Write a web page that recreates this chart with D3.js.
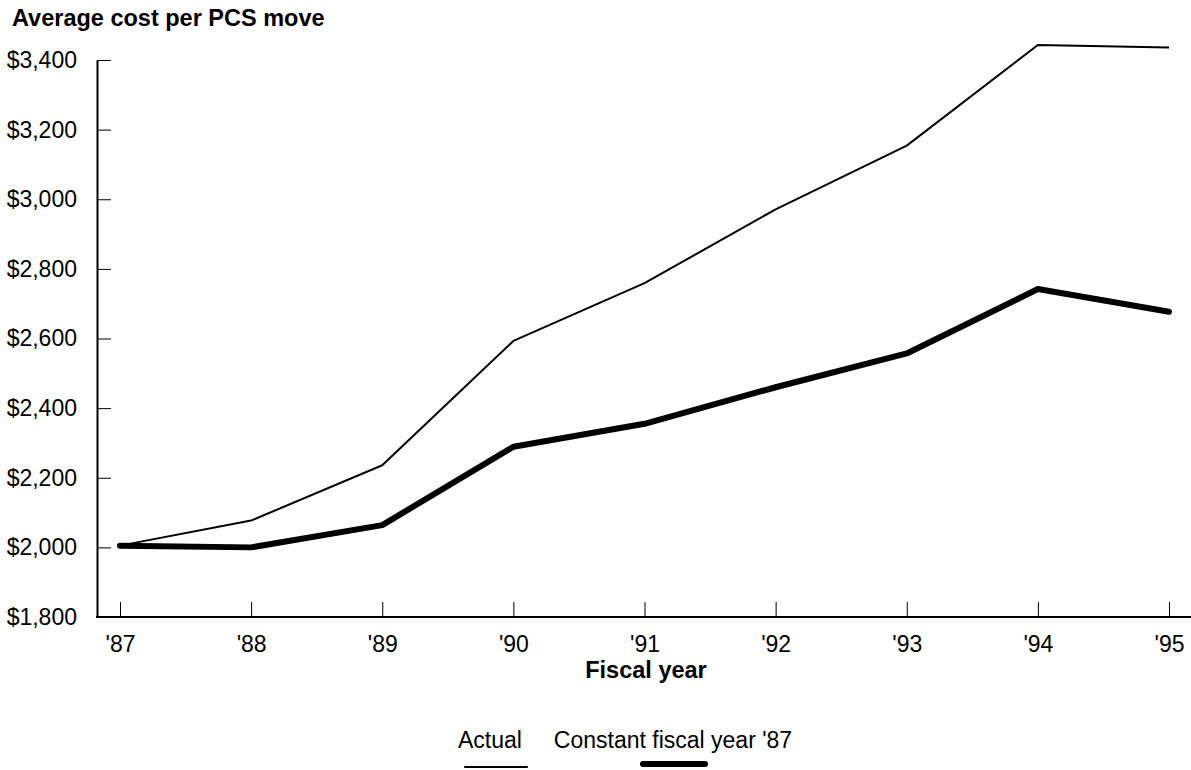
<!DOCTYPE html>
<html>
<head>
<meta charset="utf-8">
<script src="https://cdn.jsdelivr.net/npm/d3@7"></script>
<style>
  body { margin: 0; background: #fff; }
  svg { display: block; font-family: "Liberation Sans", Arial, Helvetica, sans-serif; }
</style>
</head>
<body>
<div id="chart"></div>
<script>
// chart values
const years = ["'87", "'88", "'89", "'90", "'91", "'92", "'93", "'94", "'95"];
const actual = [2005, 2077, 2236, 2593, 2759, 2971, 3154, 3443, 3436];
const constant87 = [2005, 2000, 2064, 2289, 2355, 2460, 2557, 2742, 2677];
const yTicks = [1800, 2000, 2200, 2400, 2600, 2800, 3000, 3200, 3400];
const legendLabels = ["Actual", "Constant fiscal year '87"];

const width = 1191;
const height = 770;

const svg = d3.select("#chart").append("svg")
  .attr("width", width)
  .attr("height", height);

const x = d3.scalePoint().domain(years).range([120, 1169]);
const y = d3.scaleLinear().domain([1800, 3400]).range([617, 60]);

// title
svg.append("text")
  .attr("x", 12)
  .attr("y", 26)
  .attr("font-size", 23.5)
  .attr("font-weight", "bold")
  .text("Average cost per PCS move");

// y axis, ticks pointing inward
const yAxis = svg.append("g")
  .attr("transform", "translate(97,0)")
  .call(d3.axisLeft(y)
    .tickValues(yTicks)
    .tickFormat(d3.format("$,"))
    .tickSizeInner(-14)
    .tickSizeOuter(0)
    .tickPadding(20));
yAxis.select(".domain").attr("stroke-width", 2);
yAxis.selectAll("text").attr("font-size", 23).attr("fill", "#000");

// x axis
const xAxis = svg.append("g")
  .attr("transform", "translate(0,617)")
  .call(d3.axisBottom(x)
    .tickSizeInner(-15)
    .tickSizeOuter(0)
    .tickPadding(19));
xAxis.select(".domain").remove();
xAxis.selectAll("text").attr("font-size", 23).attr("fill", "#000");
xAxis.append("line")
  .attr("x1", 96).attr("x2", width)
  .attr("y1", 0).attr("y2", 0)
  .attr("stroke", "#000")
  .attr("stroke-width", 2);

svg.append("text")
  .attr("x", 646)
  .attr("y", 678)
  .attr("text-anchor", "middle")
  .attr("font-size", 23.5)
  .attr("font-weight", "bold")
  .text("Fiscal year");

// lines
const line = d3.line()
  .x((d, i) => x(years[i]))
  .y(d => y(d));

svg.append("path")
  .datum(actual)
  .attr("fill", "none")
  .attr("stroke", "#000")
  .attr("stroke-width", 2)
  .attr("stroke-linejoin", "round")
  .attr("d", line);

svg.append("path")
  .datum(constant87)
  .attr("fill", "none")
  .attr("stroke", "#000")
  .attr("stroke-width", 6)
  .attr("stroke-linejoin", "round")
  .attr("stroke-linecap", "round")
  .attr("d", line);

// legend
const legend = [
  { label: legendLabels[0], cx: 490, x1: 465, x2: 527, ly: 767, w: 2 },
  { label: legendLabels[1], cx: 673, x1: 643, x2: 705, ly: 764, w: 6 }
];
legend.forEach(function (d) {
  svg.append("text")
    .attr("x", d.cx)
    .attr("y", 748)
    .attr("text-anchor", "middle")
    .attr("font-size", 23)
    .text(d.label);
  svg.append("line")
    .attr("x1", d.x1).attr("x2", d.x2)
    .attr("y1", d.ly).attr("y2", d.ly)
    .attr("stroke", "#000")
    .attr("stroke-width", d.w)
    .attr("stroke-linecap", "round");
});
</script>
</body>
</html>
